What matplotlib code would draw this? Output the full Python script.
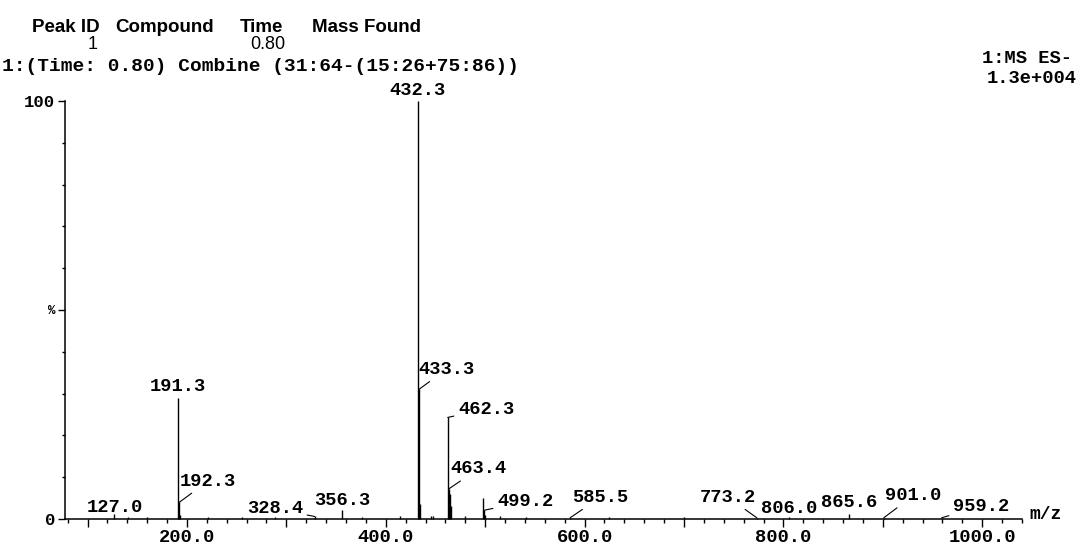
import matplotlib.pyplot as plt
from matplotlib.ticker import MultipleLocator, FuncFormatter

# spectrum peaks (m/z, relative intensity %)
mz = [127.0, 141.0, 160.0, 191.3, 192.3, 193.3, 221.0, 255.0, 289.0, 328.4,
      356.3, 376.0, 414.0, 432.3, 433.3, 434.3, 445.0, 447.0, 462.3, 463.4,
      464.4, 465.4, 480.0, 497.8, 499.2, 500.2, 515.0, 541.0, 585.5, 625.0,
      700.0, 773.2, 806.0, 865.6, 901.0, 959.2]
intensity = [1.2, 0.5, 0.5, 29.0, 4.0, 1.0, 0.4, 0.4, 0.4, 0.6,
             2.2, 0.5, 0.8, 100.0, 31.0, 3.5, 0.6, 0.6, 24.3, 7.2,
             6.0, 3.0, 0.7, 5.0, 2.1, 1.0, 0.6, 0.5, 0.3, 0.4,
             0.4, 0.3, 0.5, 1.3, 0.3, 0.3]

# labelled peaks
label_mz = [127.0, 191.3, 192.3, 328.4, 356.3, 432.3, 433.3, 462.3, 463.4,
            499.2, 585.5, 773.2, 806.0, 865.6, 901.0, 959.2]

# where each label text sits (m/z, %, alignment), None = straight above the peak
label_pos = {
    127.0: None, 191.3: None, 356.3: None, 432.3: None, 806.0: None, 865.6: None,
    192.3: (193.0, 8.0, 'left'),
    328.4: (316.7, 1.4, 'right'),
    433.3: (432.4, 34.7, 'left'),
    462.3: (472.6, 25.2, 'left'),
    463.4: (464.6, 10.9, 'left'),
    499.2: (511.9, 3.1, 'left'),
    585.5: (587.3, 4.1, 'left'),
    773.2: (716.1, 4.1, 'left'),
    901.0: (902.2, 4.5, 'left'),
    959.2: (970.6, 1.9, 'left'),
}
above_gap = {127.0: 0.5, 191.3: 1.7, 356.3: 1.2, 432.3: 1.5, 806.0: 1.0, 865.6: 1.6}

W, H = 1087, 552
fig = plt.figure(figsize=(W / 100, H / 100), dpi=100)
ax = fig.add_axes([65 / W, (H - 519) / H, (1022 - 65) / W, (519 - 101) / H])

mono = 'Liberation Mono'
sans = 'Liberation Sans'

ax.vlines(mz, 0, intensity, color='black', lw=1.0, clip_on=False)
ax.set_xlim(77.3, 1040)
ax.set_ylim(0, 100)

for s in ['top', 'right']:
    ax.spines[s].set_visible(False)
for s in ['left', 'bottom']:
    ax.spines[s].set_linewidth(1.1)

ax.xaxis.set_major_locator(MultipleLocator(100))
ax.xaxis.set_minor_locator(MultipleLocator(20))
ax.xaxis.set_major_formatter(FuncFormatter(lambda v, p: f"{v:.1f}" if round(v) % 200 == 0 else ""))
ax.tick_params(axis='x', which='major', length=6, width=1, pad=1.5, labelsize=13.5)
ax.tick_params(axis='x', which='minor', length=3, width=1)

ax.set_yticks([0, 50, 100])
ax.set_yticklabels(['0', '%', '100'])
ax.yaxis.set_minor_locator(MultipleLocator(10))
ax.tick_params(axis='y', which='major', length=5, width=1, pad=2, labelsize=12.5)
ax.tick_params(axis='y', which='minor', length=2.5, width=1)

for lab in ax.get_xticklabels() + ax.get_yticklabels():
    lab.set_fontfamily(mono)
    lab.set_fontweight('bold')
ax.get_yticklabels()[1].set_fontsize(9)

heights = dict(zip(mz, intensity))
for m in label_mz:
    h = heights[m]
    txt = f"{m:.1f}"
    pos = label_pos[m]
    if pos is None:
        ax.text(m, h + above_gap[m], txt, ha='center', va='baseline', fontsize=13.5,
                family=mono, weight='bold', clip_on=False)
    else:
        tx, ty, ha = pos
        ax.annotate(txt, xy=(m, h), xytext=(tx, ty), ha=ha, va='baseline',
                    fontsize=13.5, family=mono, weight='bold', annotation_clip=False,
                    arrowprops=dict(arrowstyle='-', lw=0.8, color='black',
                                    shrinkA=1, shrinkB=0))

ax.text(1.008, 0.0, 'm/z', transform=ax.transAxes, ha='left', va='baseline',
        fontsize=13, family=mono, weight='bold')


def ftext(x, y, s, **kw):
    fig.text(x / W, 1 - y / H, s, va='baseline', **kw)


ftext(32, 32, 'Peak ID', family=sans, weight='bold', fontsize=13.5)
ftext(115, 32, 'Compound', family=sans, weight='bold', fontsize=13.5)
ftext(240, 32, 'Time', family=sans, weight='bold', fontsize=13.5)
ftext(312, 32, 'Mass Found', family=sans, weight='bold', fontsize=13.5)
ftext(98, 49, '1', family=sans, fontsize=13, ha='right')
ftext(285, 49, '0.80', family=sans, fontsize=13, ha='right')
ftext(2, 71, '1:(Time: 0.80) Combine (31:64-(15:26+75:86))', family=mono,
      weight='bold', fontsize=14)
ftext(982, 63, '1:MS ES-', family=mono, weight='bold', fontsize=13.5)
ftext(987, 83, '1.3e+004', family=mono, weight='bold', fontsize=13.5)

fig.savefig('out.png', dpi=100, facecolor='white')
